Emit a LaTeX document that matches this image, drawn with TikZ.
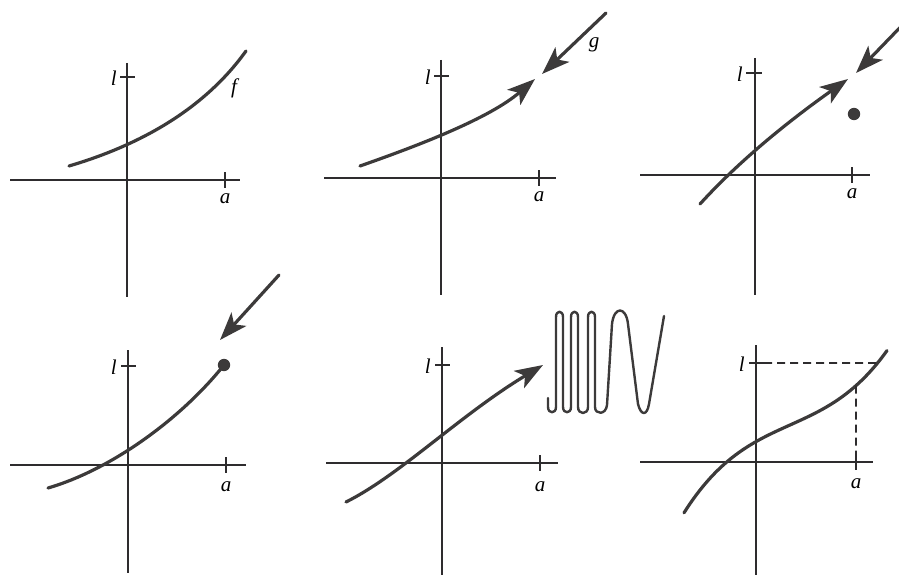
\documentclass[tikz,border=0pt]{standalone}
\usepackage{fontspec}
\setmainfont{Liberation Serif}
\usetikzlibrary{arrows.meta,intersections}
\definecolor{ink}{HTML}{3C3A3A}
\definecolor{axiscol}{HTML}{2E2C2E}
\begin{document}
\begin{tikzpicture}[x=1pt,y=-1pt,
  axisline/.style={line width=1.1pt, draw=axiscol},
  curve/.style={line width=3.2pt, draw=ink, line cap=round},
  squig/.style={line width=2.4pt, draw=ink, line cap=round, line join=round},
  tipped/.style={-{Stealth[length=28pt,width=20pt,inset=7pt]}},
  dashline/.style={line width=1.6pt, draw=axiscol, dash pattern=on 8pt off 5pt},
  lab/.style={font=\fontsize{21}{23}\selectfont\itshape, inner sep=0pt},
  dot/.style={fill=ink, draw=none}]
\useasboundingbox (0,0) rectangle (899,575);
\clip (0,0) rectangle (899,575);

% ---------- panel 1 ----------
\draw[axisline] (10,180) -- (240,180);
\draw[axisline] (127,63) -- (127,297);
\draw[axisline] (225,172) -- (225,188);
\draw[axisline] (120,77) -- (135,77);
\node[lab, anchor=east] (l1) at (117,78) {l};
\node[lab] (a1) at (225,199) {a};
\draw[curve] (69,166) .. controls (130,148) and (200,115) .. (246,51);
\node[lab] (f1) at (234,88) {f};

% ---------- panel 2 ----------
\draw[axisline] (324,178) -- (556,178);
\draw[axisline] (441,60) -- (441,295);
\draw[axisline] (539,170) -- (539,186);
\draw[axisline] (434,76) -- (449,76);
\node[lab, anchor=east] (l2) at (431,77) {l};
\node[lab] (a2) at (539,197) {a};
\draw[curve, tipped] (360,166) .. controls (420,145) and (490,118) .. (535,79);
\coordinate (g0) at (606,13);
\coordinate (g1) at (542,74);
\draw[curve, tipped] (g0) -- (g1);
\node[lab] (g2) at (594,45) {g};

% ---------- panel 3 ----------
\draw[axisline] (640,175) -- (870,175);
\draw[axisline] (755,58) -- (755,295);
\draw[axisline] (852,167) -- (852,183);
\draw[axisline] (746,73) -- (762,73);
\node[lab, anchor=east] (l3) at (743,74) {l};
\node[lab] (a3) at (852,194) {a};
\draw[curve, tipped] (700,204) .. controls (740,160) and (790,120) .. (848,79);
\fill[dot] (854,114) circle (6.2);
\coordinate (h0) at (915,12);
\coordinate (h1) at (856,73);
\draw[curve, tipped] (h0) -- (h1);
\node[lab] (h2) at (904,44) {h};

% ---------- panel 4 ----------
\draw[axisline] (10,465) -- (246,465);
\draw[axisline] (128,350) -- (128,573);
\draw[axisline] (226,457) -- (226,473);
\draw[axisline] (121,366) -- (136,366);
\node[lab, anchor=east] (l4) at (117,367) {l};
\node[lab] (a4) at (226,487) {a};
\draw[curve] (48,488) .. controls (110,470) and (180,420) .. (224,365);
\fill[dot] (224,365) circle (6.2);
\coordinate (k0) at (279,275);
\coordinate (k1) at (220,340);
\draw[curve, tipped] (k0) -- (k1);

% ---------- panel 5 ----------
\draw[axisline] (326,463) -- (558,463);
\draw[axisline] (442,347) -- (442,575);
\draw[axisline] (540,455) -- (540,471);
\draw[axisline] (435,365) -- (450,365);
\node[lab, anchor=east] (l5) at (431,366) {l};
\node[lab] (a5) at (540,487) {a};
\draw[curve, tipped] (346,502) .. controls (400,475) and (460,415) .. (543,365);
\draw[squig] (548,398) -- (548,407)
  .. controls (548,414) and (556,414) .. (556,407) -- (556,317)
  .. controls (556,310) and (563,310) .. (563,317) -- (563,407)
  .. controls (563,414) and (571,414) .. (571,407) -- (571,317)
  .. controls (571,310) and (578,310) .. (578,317) -- (578,407)
  .. controls (578,415) and (588,415) .. (588,407) -- (588,317)
  .. controls (588,310) and (595,310) .. (595,317) -- (595,407)
  .. controls (595,415) and (606,415) .. (607,405) -- (612,324)
  .. controls (614,306) and (626,306) .. (628,324) -- (638,404)
  .. controls (641,416) and (647,416) .. (649,404) -- (664,316);

% ---------- panel 6 ----------
\draw[axisline] (640,462) -- (873,462);
\draw[axisline] (756,345) -- (756,575);
\draw[axisline] (856,454) -- (856,470);
\draw[axisline] (749,363) -- (764,363);
\node[lab, anchor=east] (l6) at (745,364) {l};
\node[lab] (a6) at (856,484) {a};
\draw[curve, name path=c6] plot[domain=-1.06:0.97, samples=80, smooth]
  ({790+100*\x},{425-45*\x-33.7*\x*\x*\x});
\path[name path=v6] (856,300) -- (856,460);
\path[name path=h6] (760,363) -- (899,363);
\path[name intersections={of=c6 and v6, by=pv}];
\path[name intersections={of=c6 and h6, by=ph}];
\draw[dashline] (764,363) -- (ph);
\draw[dashline] (pv) -- (856,454);
\end{tikzpicture}
\end{document}
